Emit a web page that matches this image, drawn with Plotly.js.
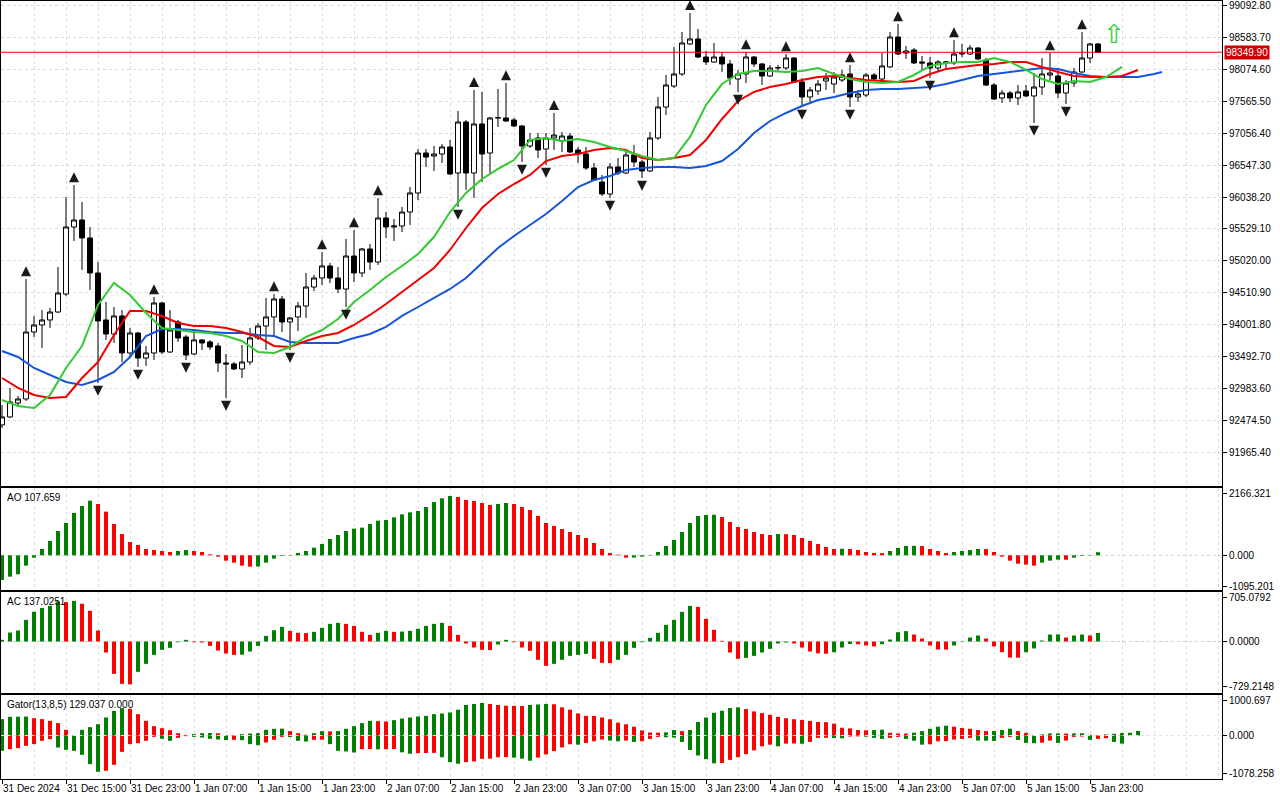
<!DOCTYPE html>
<html><head><meta charset="utf-8">
<script src="https://cdn.plot.ly/plotly-3.0.1.min.js"></script>
<style>html,body{margin:0;padding:0;background:#fff}#chart{width:1280px;height:800px}</style>
</head><body><div id="chart"></div>
<script>
// ---- time axis (hourly bars, first bar 31 Dec 2024 07:00) ----
const timeLabels = ["31 Dec 2024","31 Dec 15:00","31 Dec 23:00","1 Jan 07:00","1 Jan 15:00","1 Jan 23:00",
  "2 Jan 07:00","2 Jan 15:00","2 Jan 23:00","3 Jan 07:00","3 Jan 15:00","3 Jan 23:00",
  "4 Jan 07:00","4 Jan 15:00","4 Jan 23:00","5 Jan 07:00","5 Jan 15:00","5 Jan 23:00"];
const labelEvery = 8;

// ---- candles ----
const openP = [92401,92529,92752,92816,93885,93997,94077,94204,94492,95561,
95673,95386,94827,94077,93853,94141,93550,93869,93470,93550,
94348,93566,94045,93805,93534,93758,93726,93662,93391,93375,
93295,93406,93790,93981,94125,94412,94045,94125,94300,94603,
94747,94939,94747,94571,95098,94827,95210,95002,95705,95561,
95577,95800,96104,96742,96694,96726,96838,96423,97237,96423,
97205,96742,97301,97301,97269,97173,96854,96982,96806,96982,
96934,97013,96790,96726,96503,96279,96088,96519,96423,96710,
96598,96455,96982,97476,97811,98003,98482,98562,98274,98194,
98274,98163,97923,98003,98274,98163,97971,98099,98099,98258,
97875,97636,97732,97891,97843,97907,98003,97636,97668,97987,
97923,98115,98593,98338,98386,98195,98179,98099,98179,98179,
98322,98322,98418,98226,97827,97620,97700,97620,97732,97652,
97795,97987,97971,97700,97859,98035,98258,98482];
const highP = [92720,92992,92864,94731,94141,94236,94268,94923,96040,96231,
95960,95561,95002,94364,94284,94236,93949,93885,93662,94444,
94364,94236,94077,93837,93917,93774,93758,93710,93534,93406,
93678,93949,94029,94428,94492,94460,94125,94364,94827,94795,
95162,94987,94923,95370,95513,95226,95290,96024,95800,95689,
95880,96199,96806,96806,96854,96886,96950,97412,97269,97748,
97716,97317,97764,97859,97301,97189,97061,97061,97061,97381,
97077,97061,96838,96838,96583,96391,96583,96662,96758,96870,
96630,97077,97636,97987,98434,98673,98977,98721,98370,98498,
98354,98226,98067,98354,98290,98179,98147,98147,98322,98274,
97939,97795,97907,98019,98035,98067,98147,97748,98019,98019,
98338,98673,98801,98450,98418,98290,98274,98226,98210,98546,
98482,98466,98434,98258,97859,97748,97732,97827,97827,98019,
98258,98338,98067,97907,98099,98673,98498,98498];
const lowP = [92353,92513,92688,92784,93805,93630,93949,94188,94460,95338,
94875,94556,93071,93758,93710,93406,93470,93327,93343,93438,
93534,93550,93726,93438,93518,93598,93598,93247,92832,93279,
93151,93359,93758,93598,93805,93885,93598,93901,94109,94540,
94635,94667,94508,94284,94683,94763,94875,94955,95386,95338,
95481,95593,95992,96519,96455,96583,96391,95880,96152,96024,
96279,96423,97157,97237,97157,96598,96822,96662,96551,96790,
96758,96742,96583,96471,96295,96056,96024,96391,96407,96519,
96343,96439,96950,97349,97780,97971,98466,98258,98147,98179,
98035,97827,97716,97859,98115,97827,97955,98051,98067,97859,
97476,97556,97668,97748,97700,97875,97476,97556,97636,97907,
97907,98099,98306,98242,98163,98067,97939,98035,98067,98147,
98274,98306,98226,97811,97588,97540,97556,97508,97636,97221,
97668,97907,97620,97524,97795,98019,98179,98338];
const closeP = [92529,92768,92816,93885,93997,94077,94204,94508,95561,95673,
95386,94827,94061,93853,94141,93550,93869,93470,93550,94348,
93566,93917,93790,93518,93758,93710,93646,93391,93375,93295,
93406,93790,93981,94125,94412,94045,94109,94300,94603,94747,
94939,94747,94571,95098,94827,95210,95002,95705,95561,95577,
95800,96104,96742,96678,96726,96838,96407,97237,96423,97205,
96726,97301,97305,97253,97173,96854,96950,96790,96982,97029,
97013,96758,96726,96503,96311,96088,96519,96423,96710,96598,
96455,96982,97476,97827,98003,98498,98562,98274,98194,98274,
98163,97939,98003,98274,98163,97971,98099,98105,98258,97875,
97636,97748,97843,97939,97955,97987,97636,97684,97987,97923,
98131,98593,98322,98370,98179,98179,98099,98195,98195,98322,
98338,98418,98242,97827,97604,97700,97620,97716,97652,97795,
98003,98019,97700,97859,98035,98258,98482,98349.90];

// ---- fractals (bar indices) ----
const fracUpIdx = [3,9,19,34,40,44,47,59,63,69,86,93,98,106,112,119,131,135];
const fracDnIdx = [12,17,23,28,36,43,57,65,68,76,80,92,100,106,116,129,133];

// ---- alligator (sampled every 2 bars, lines shifted forward) ----
const jawVals = [93582,93486,93311,93199,93087,93039,93119,93247,93486,93821,93933,93933,93917,93885,93869,93869,93837,93821,93726,93710,93710,93710,93790,93853,93965,94141,94284,94428,94572,94747,94987,95226,95417,95593,95769,95976,96199,96311,96375,96471,96503,96519,96519,96503,96535,96614,96806,97061,97253,97381,97492,97588,97636,97700,97748,97763,97763,97779,97795,97843,97907,97971,98003,98035,98067,98099,98083,98019,97971,97955,97955,97955,98003,98035];
const jawIdx = jawVals.map((v,i) => i < jawVals.length-1 ? 2*i : 145);
const teethVals = [93151,92992,92880,92832,92848,93151,93406,93837,94220,94220,94141,94029,93981,93981,93949,93885,93805,93662,93646,93742,93821,93869,93997,94157,94332,94524,94715,94907,95194,95545,95864,96088,96247,96391,96614,96694,96726,96790,96822,96790,96662,96630,96662,96710,96950,97285,97572,97716,97795,97843,97907,97955,97971,97939,97907,97891,97875,97891,98003,98083,98115,98147,98163,98195,98195,98115,98035,97971,97955,97955,97971,98067];
const lipsVals = [92800,92704,92672,92880,93311,93662,94316,94667,94476,94188,93949,93917,93885,93869,93821,93742,93566,93550,93646,93805,93917,94093,94364,94556,94763,94939,95130,95401,95800,96104,96327,96487,96630,96950,96982,96934,96966,96918,96838,96774,96694,96630,96662,96998,97508,97843,98003,98051,98051,98035,98051,98099,98003,97923,97875,97859,97875,97987,98131,98179,98195,98195,98258,98195,98067,97923,97843,97891,97875,97955,98115];

// ---- AO / AC / Gator ----
const aoVals = [-864,-747,-665,-362,-82,222,502,852,1132,1482,
1727,1914,1797,1529,1097,747,467,362,222,187,
152,117,152,187,152,117,35,-47,-187,-257,
-362,-397,-392,-257,-117,-23,12,82,152,268,
397,572,712,852,934,969,1097,1214,1237,1330,
1435,1505,1552,1692,1867,1996,2077,2042,1937,1902,
1832,1762,1797,1832,1797,1692,1587,1377,1132,1027,
922,817,712,607,432,222,82,23,-82,-78,
-47,12,117,327,537,817,1132,1377,1412,1420,
1342,1167,992,922,817,747,712,747,740,712,
607,502,397,292,222,228,222,187,117,82,
78,152,257,327,332,325,222,152,82,117,
152,187,222,218,117,-47,-187,-292,-327,-362,
-257,-187,-152,-155,-82,-23,-12,108];
const acVals = [27,145,177,349,478,540,575,645,635,655,
608,494,177,-177,-521,-682,-690,-488,-360,-215,
-134,-102,-11,27,-11,-16,-70,-145,-193,-215,
-212,-161,-70,91,182,236,172,140,136,156,
220,284,301,284,252,156,107,140,172,156,
160,172,204,252,284,301,252,107,-32,-97,
-134,-138,-48,27,-11,-97,-150,-295,-392,-360,
-295,-231,-215,-199,-279,-343,-348,-295,-215,-102,
-11,59,140,268,349,478,574,558,365,188,
11,-177,-279,-263,-231,-177,-118,-32,-16,-32,
-97,-161,-190,-197,-172,-97,-40,-45,-64,-80,
-43,32,150,167,112,48,-64,-129,-131,-64,
6,64,97,48,-80,-172,-258,-260,-172,-112,
16,112,115,64,97,112,97,137];
const gatorUp = [466,532,535,540,494,466,418,352,162,0,
162,238,323,513,700,780,760,608,418,266,
209,152,66,19,38,66,70,62,8,4,
38,57,66,162,190,195,124,66,20,66,
124,118,126,190,266,352,418,410,400,437,
483,512,541,560,609,628,657,734,869,898,
927,898,869,850,845,840,870,885,900,890,
802,734,628,560,556,512,464,367,319,251,
145,87,80,90,155,126,155,386,512,647,
705,782,802,753,686,638,589,531,493,464,
444,415,386,380,338,222,203,155,150,155,
165,77,58,55,80,126,193,251,280,251,
213,193,155,126,130,155,193,126,77,10,
29,58,60,55,60,65,20,5,29,48,
70,77,129];
const gatorDn = [-437,-390,-361,-295,-247,-152,-105,-342,-409,-437,
-551,-817,-1036,-1007,-836,-466,-247,-219,-152,-38,
-95,-152,-67,-19,-38,-57,-95,-114,-128,-124,
-133,-247,-276,-200,-124,-38,-45,-152,-171,-124,
-120,-247,-437,-456,-485,-390,-385,-395,-390,-385,
-480,-520,-505,-500,-495,-620,-760,-805,-760,-740,
-665,-660,-620,-615,-630,-660,-720,-630,-540,-445,
-340,-250,-261,-213,-164,-116,-145,-164,-145,-184,
-164,-97,-40,-50,-60,-184,-415,-570,-676,-792,
-785,-696,-618,-531,-425,-309,-261,-309,-232,-228,
-235,-184,-68,-65,-70,-80,-29,-25,-35,-68,
-97,-68,-39,-97,-150,-261,-250,-164,-160,-116,
-97,-68,-145,-150,-155,-68,-39,-126,-212,-220,
-205,-145,-212,-145,-39,-29,-126,-97,-77,-184,
-232];

// ---- axis labels ----
const priceTicks = [99092.80,98583.70,98074.60,97565.50,97056.40,96547.30,96038.20,95529.10,95020.00,94510.90,94001.80,93492.70,92983.60,92474.50,91965.40];
const aoTicks = [2166.321,0,-1095.201], aoTickText = ["2166.321","0.000","-1095.201"];
const acTicks = [705.0792,0,-729.2148], acTickText = ["705.0792","0.0000","-729.2148"];
const gatorTicks = [1000.697,0,-1078.258], gatorTickText = ["1000.697","0.000","-1078.258"];
const aoLabel = "AO 107.659", acLabel = "AC 137.0251", gatorLabel = "Gator(13,8,5) 129.037 0.000";
const lastPrice = closeP[closeP.length-1];
const signalIdx = [139], signalPrice = [98609];

// ---- styles ----
const GREEN = '#008000', RED = '#ff0000';
const GRID = '#dcdcdc', DASH = '3px,3px';
const FR_OFF = 205;
const idx = n => Array.from({length:n}, (_, i) => i);

function dirColors(vals, useAbs) {
  const out = []; let prev = null, col = GREEN;
  vals.forEach(v => {
    const a = useAbs ? Math.abs(v) : v;
    if (prev !== null) { if (a > prev) col = GREEN; else if (a < prev) col = RED; }
    out.push(col); prev = a;
  });
  return out;
}

const nBars = closeP.length;
const majorVals = timeLabels.map((_, i) => i * labelEvery);
const minorVals = [];
for (let k = 0; k <= 152; k += 4) if (!majorVals.includes(k)) minorVals.push(k);

const traces = [
  {type:'candlestick', x: idx(nBars), open: openP, high: highP, low: lowP, close: closeP,
   increasing:{line:{color:'#000', width:1}, fillcolor:'#ffffff'},
   decreasing:{line:{color:'#000', width:1}, fillcolor:'#000000'},
   whiskerwidth:0, hoverinfo:'skip', xaxis:'x', yaxis:'y'},
  {type:'scatter', mode:'lines', x: jawIdx, y: jawVals, line:{color:'#1655d9', width:2}, hoverinfo:'skip', xaxis:'x', yaxis:'y'},
  {type:'scatter', mode:'lines', x: teethVals.map((v,i)=>2*i), y: teethVals, line:{color:'#f00000', width:2}, hoverinfo:'skip', xaxis:'x', yaxis:'y'},
  {type:'scatter', mode:'lines', x: lipsVals.map((v,i)=>2*i), y: lipsVals, line:{color:'#34c934', width:2}, hoverinfo:'skip', xaxis:'x', yaxis:'y'},
  {type:'scatter', mode:'markers', x: fracUpIdx, y: fracUpIdx.map(i => highP[i] + FR_OFF),
   marker:{symbol:'arrow-up', size:10, color:'#1a1a1a', line:{width:0}}, hoverinfo:'skip', xaxis:'x', yaxis:'y'},
  {type:'scatter', mode:'markers', x: fracDnIdx, y: fracDnIdx.map(i => lowP[i] - FR_OFF),
   marker:{symbol:'arrow-down', size:10, color:'#1a1a1a', line:{width:0}}, hoverinfo:'skip', xaxis:'x', yaxis:'y'},
  {type:'scatter', mode:'text', x: signalIdx, y: signalPrice, text: ['\u21E7'], textposition:'middle center',
   textfont:{family:'DejaVu Sans', size:26, color:'#2fcf2f'}, hoverinfo:'skip', xaxis:'x', yaxis:'y'},
  {type:'bar', x: idx(aoVals.length), y: aoVals, width:0.5, marker:{color: dirColors(aoVals,false), line:{width:0}}, hoverinfo:'skip', xaxis:'x2', yaxis:'y2'},
  {type:'bar', x: idx(acVals.length), y: acVals, width:0.5, marker:{color: dirColors(acVals,false), line:{width:0}}, hoverinfo:'skip', xaxis:'x3', yaxis:'y3'},
  {type:'bar', x: idx(gatorUp.length), y: gatorUp, width:0.5, marker:{color: dirColors(gatorUp,true), line:{width:0}}, hoverinfo:'skip', xaxis:'x4', yaxis:'y4'},
  {type:'bar', x: idx(gatorDn.length), y: gatorDn, width:0.5, marker:{color: dirColors(gatorDn,true), line:{width:0}}, hoverinfo:'skip', xaxis:'x4', yaxis:'y4'}
];

const FONT = {family:'Liberation Sans, Arial, sans-serif', size:10, color:'#000'};
function xAx(anchor, showLabels) {
  const a = {anchor, range:[-0.125,152.5], showline:true, mirror:true, linecolor:'#000', linewidth:1,
    tickmode:'array', tickvals: majorVals, showgrid:true, gridcolor:GRID, griddash:DASH, zeroline:false,
    minor:{tickmode:'array', tickvals:minorVals, showgrid:true, gridcolor:GRID, griddash:DASH, ticks:''},
    fixedrange:true, showticklabels:false, ticks:'', tickangle:0};
  if (anchor !== 'y') a.matches = 'x';
  if (showLabels) Object.assign(a, {showticklabels:true, ticktext: timeLabels, ticks:'outside', ticklen:4,
    tickcolor:'#000', ticklabelposition:'outside right', tickfont: FONT, tickangle:0, automargin:false});
  return a;
}
function yAx(domain, range, tickvals, ticktext, grid) {
  return {domain, range, anchor: 'free', side:'right', showline:true, mirror:true, linecolor:'#000', linewidth:1,
    tickmode:'array', tickvals, ticktext, ticks:'outside', ticklen:4, tickcolor:'#000', tickfont: FONT,
    showgrid: grid, gridcolor:GRID, griddash:DASH, zeroline:false, fixedrange:true, automargin:false};
}
const yMain = yAx([0.3774,1], [91427,99168], priceTicks, priceTicks.map(v => v.toFixed(2)), true); yMain.anchor='x';
const yAO = yAx([0.2439,0.3748], [-1215,2356], aoTicks, aoTickText, false); yAO.anchor='x2';
const yAC = yAx([0.1117,0.2413], [-829,797], acTicks, acTickText, false); yAC.anchor='x3';
const yGa = yAx([0.0013,0.1091], [-1240,1154], gatorTicks, gatorTickText, false); yGa.anchor='x4';

const xMain = xAx('y', false); xMain.rangeslider = {visible:false};

const zeroShape = (ax, layer, color) => ({type:'line', xref: ax.x + ' domain', x0:0, x1:1, yref: ax.y, y0:0, y1:0,
  line:{color, width:1, dash:DASH}, layer});

const layout = {
  width:1280, height:800, margin:{l:1, r:58, t:1, b:20}, paper_bgcolor:'#fff', plot_bgcolor:'#fff',
  showlegend:false, barmode:'overlay', boxgap:0.38, boxgroupgap:0, font: FONT,
  xaxis: xMain, xaxis2: xAx('y2', false), xaxis3: xAx('y3', false), xaxis4: xAx('y4', true),
  yaxis: yMain, yaxis2: yAO, yaxis3: yAC, yaxis4: yGa,
  shapes: [
    {type:'line', xref:'x domain', x0:0, x1:1, yref:'y', y0:lastPrice, y1:lastPrice, line:{color:'#e00000', width:1}, layer:'above'},
    zeroShape({x:'x2', y:'y2'}, 'below', '#cfcfcf'),
    zeroShape({x:'x3', y:'y3'}, 'below', '#cfcfcf'),
    zeroShape({x:'x4', y:'y4'}, 'above', '#e4e4e4')
  ],
  annotations: [
    {xref:'x domain', x:1, xanchor:'left', xshift:2, yref:'y', y:lastPrice, yanchor:'middle', text: lastPrice.toFixed(2),
     showarrow:false, font:{family:FONT.family, size:10, color:'#fff'}, bgcolor:'#d20000', borderpad:1},
    {xref:'paper', x:0.003, xanchor:'left', yref:'y2 domain', y:1, yanchor:'top', yshift:-2, text: aoLabel, showarrow:false, font: FONT},
    {xref:'paper', x:0.003, xanchor:'left', yref:'y3 domain', y:1, yanchor:'top', yshift:-2, text: acLabel, showarrow:false, font: FONT},
    {xref:'paper', x:0.003, xanchor:'left', yref:'y4 domain', y:1, yanchor:'top', yshift:-2, text: gatorLabel, showarrow:false, font: FONT}
  ]
};

Plotly.newPlot('chart', traces, layout, {staticPlot:true, displayModeBar:false});
</script>
</body></html>
